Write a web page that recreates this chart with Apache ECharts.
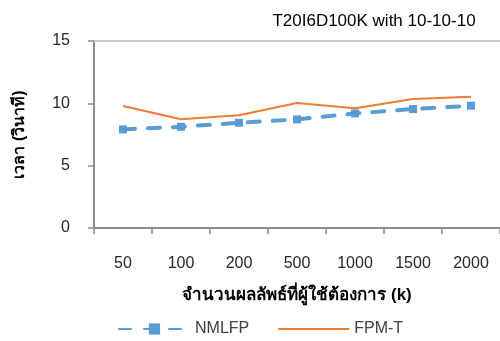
<!DOCTYPE html>
<html>
<head>
<meta charset="utf-8">
<script src="https://cdn.jsdelivr.net/npm/echarts@6/dist/echarts.min.js"></script>
<style>
  html, body { margin: 0; padding: 0; background: #fff; }
  #chart { width: 500px; height: 341px; }
</style>
</head>
<body>
<div id="chart"></div>
<script>
// Result counts (k) on the category axis
const categories = ['50', '100', '200', '500', '1000', '1500', '2000'];
// Run time in seconds
const nmlfp = [7.91, 8.12, 8.44, 8.71, 9.19, 9.54, 9.81];
const fpmT = [9.78, 8.72, 9.04, 10.02, 9.60, 10.34, 10.53];
const yTicks = [0, 5, 10, 15];

const FONT = 'Liberation Sans, Arial, sans-serif';
const chart = echarts.init(document.getElementById('chart'), null, { renderer: 'canvas' });

chart.setOption({
  animation: false,
  backgroundColor: '#ffffff',
  title: {
    text: 'T20I6D100K with 10-10-10',
    left: 369,
    textAlign: 'center',
    top: 8,
    textStyle: { fontFamily: FONT, fontSize: 17, fontWeight: 'normal', color: '#000' }
  },
  legend: {
    left: 118,
    top: 321,
    padding: 0,
    itemWidth: 71,
    itemHeight: 14,
    itemGap: 29,
    textStyle: { fontFamily: FONT, fontSize: 16, color: '#404040' },
    data: [
      { name: 'NMLFP' },
      { name: 'FPM-T', icon: 'path://M0,6 L70,6 L70,8 L0,8 Z' }
    ]
  },
  grid: { left: 94, right: -1, top: 41, bottom: 113, containLabel: false },
  xAxis: [
    {
      type: 'category',
      data: categories,
      boundaryGap: true,
      axisLine: { lineStyle: { color: '#8c8c8c', width: 2 } },
      axisTick: { show: true, length: 6, lineStyle: { color: '#8c8c8c', width: 1.5 } },
      axisLabel: { fontFamily: FONT, fontSize: 16, color: '#262626', margin: 28 },
      name: 'จำนวนผลลัพธ์ที่ผู้ใช้ต้องการ (k)',
      nameLocation: 'middle',
      nameGap: 59,
      nameTextStyle: { fontFamily: FONT, fontSize: 17, fontWeight: 'bold', color: '#000' }
    },
    {
      type: 'category',
      data: categories,
      position: 'top',
      axisLine: { show: true, lineStyle: { color: '#c8c8c8', width: 2 } },
      axisTick: { show: false },
      axisLabel: { show: false }
    }
  ],
  yAxis: {
    type: 'value',
    min: yTicks[0],
    max: yTicks[yTicks.length - 1],
    interval: 5,
    axisLine: { show: true, lineStyle: { color: '#8c8c8c', width: 2 } },
    axisTick: { show: true, length: 6, lineStyle: { color: '#8c8c8c', width: 1.5 } },
    axisLabel: { fontFamily: FONT, fontSize: 16, color: '#262626', margin: 24 },
    splitLine: { show: false },
    name: 'เวลา (วินาที)',
    nameLocation: 'middle',
    nameRotate: 90,
    nameGap: 66,
    nameTextStyle: { fontFamily: FONT, fontSize: 16, fontWeight: 'bold', color: '#000' }
  },
  series: [
    {
      name: 'NMLFP',
      type: 'line',
      data: nmlfp,
      symbol: 'rect',
      symbolSize: 8,
      itemStyle: { color: '#5B9BD5' },
      lineStyle: { color: '#5B9BD5', width: 4, type: [12, 13], cap: 'round' },
      z: 3
    },
    {
      name: 'FPM-T',
      type: 'line',
      data: fpmT,
      showSymbol: false,
      symbol: 'none',
      itemStyle: { color: '#ED7D31' },
      lineStyle: { color: '#ED7D31', width: 2 },
      z: 2
    }
  ]
});
</script>
</body>
</html>
